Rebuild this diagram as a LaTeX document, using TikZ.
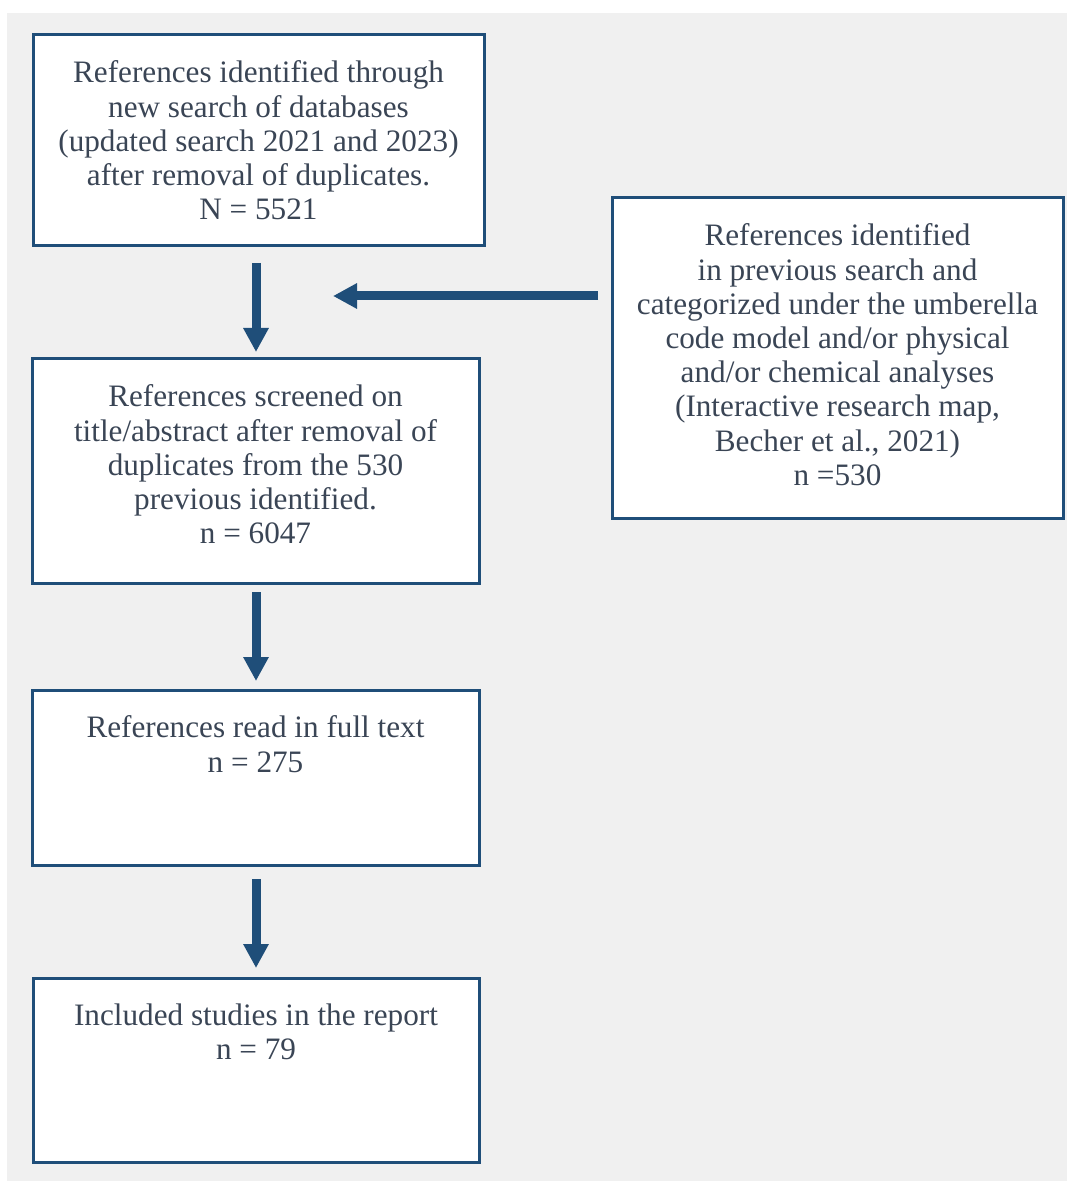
\documentclass[tikz,border=0pt]{standalone}
\usepackage{fontspec}
\setmainfont{Liberation Serif}
\usetikzlibrary{arrows.meta}
\definecolor{bord}{HTML}{1F4E79}
\definecolor{txtc}{HTML}{3A4555}
\definecolor{bg}{HTML}{F0F0F0}
\tikzset{
  box/.style={draw=bord, line width=1.5pt, fill=white, anchor=north west, inner sep=0pt},
  txt/.style={anchor=north, align=center, text=txtc, font=\fontsize{15.6}{17.1}\selectfont, inner sep=0pt},
  arr/.style={draw=bord, line width=4.5pt, -{Triangle[width=12pt,length=12pt]}}
}
\begin{document}
\begin{tikzpicture}[x=0.5pt,y=-0.5pt]
\useasboundingbox (0,0) rectangle (1067,1181);
\fill[bg] (7,13) rectangle (1067,1181);
\node[box, minimum width=225.5pt, minimum height=105.5pt] (b1) at (31.5,33.5) {};
\node[box, minimum width=225.5pt, minimum height=160pt] (b2) at (610.5,196.5) {};
\node[box, minimum width=223.5pt, minimum height=112pt] (b3) at (30.5,357.5) {};
\node[box, minimum width=223.5pt, minimum height=87.5pt] (b4) at (30.5,688.5) {};
\node[box, minimum width=223pt, minimum height=92pt] (b5) at (31.5,976.5) {};
\node[txt] (t1) at ([yshift=-13.5pt]b1.north) {References identified through\\new search of databases\\(updated search 2021 and 2023)\\after removal of duplicates.\\N = 5521};
\node[txt] (t2) at ([yshift=-13.5pt]b2.north) {References identified\\in previous search and\\categorized under the umberella\\code model and/or physical\\and/or chemical analyses\\(Interactive research map,\\Becher et al., 2021)\\n =530};
\node[txt] (t3) at ([yshift=-13.5pt]b3.north) {References screened on\\title/abstract after removal of\\duplicates from the 530\\previous identified.\\n = 6047};
\node[txt] (t4) at ([yshift=-13.5pt]b4.north) {References read in full text\\n = 275};
\node[txt] (t5) at ([yshift=-13.5pt]b5.north) {Included studies in the report\\n = 79};
\coordinate (a1s) at (256,263);
\coordinate (a1e) at (256,352);
\coordinate (a2s) at (256,592);
\coordinate (a2e) at (256,681);
\coordinate (a3s) at (256,879);
\coordinate (a3e) at (256,968);
\coordinate (hs) at (598,296);
\coordinate (he) at (333,296);
\draw[arr] (a1s) -- (a1e);
\draw[arr] (a2s) -- (a2e);
\draw[arr] (a3s) -- (a3e);
\draw[arr] (hs) -- (he);
\end{tikzpicture}
\end{document}
